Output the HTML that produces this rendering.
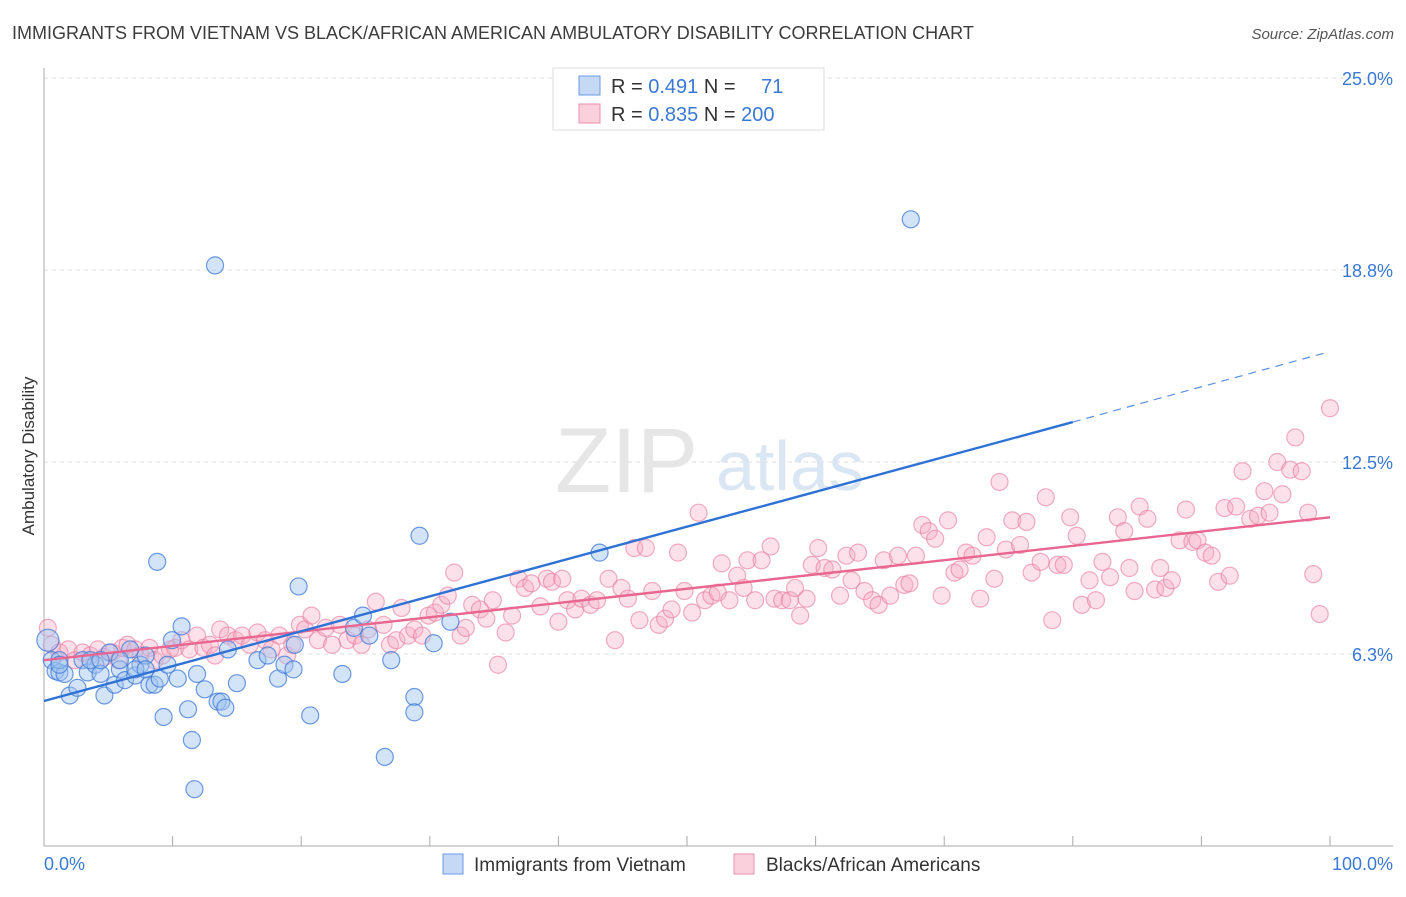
<!DOCTYPE html>
<html><head><meta charset="utf-8"><style>
body{margin:0;background:#fff;font-family:"Liberation Sans",sans-serif;}
svg text{font-family:"Liberation Sans",sans-serif;}
</style></head><body>
<svg id="chart" width="1406" height="892" xmlns="http://www.w3.org/2000/svg">
<text x="12" y="39" font-size="18" fill="#3c3c3c">IMMIGRANTS FROM VIETNAM VS BLACK/AFRICAN AMERICAN AMBULATORY DISABILITY CORRELATION CHART</text>
<text x="1394" y="39" font-size="15" fill="#555" text-anchor="end" font-style="italic">Source: ZipAtlas.com</text>
<g id="grid"></g>
<text x="555" y="492" font-size="92" fill="#e6e6e6" font-family="Liberation Serif">ZIP</text>
<text x="716" y="490" font-size="70" fill="#dbe6f4">atlas</text>
<g id="pink"></g><g id="blue"></g><g id="lines"></g>
<text transform="translate(34,456) rotate(-90)" font-size="17" fill="#333" text-anchor="middle">Ambulatory Disability</text>
<g>
<rect x="553" y="68" width="271" height="62" fill="#fff" stroke="#ddd"/>
<rect x="579" y="76" width="21" height="19" fill="#c5d9f5" stroke="#6a9be0"/>
<rect x="579" y="104" width="21" height="19" fill="#fbd0dd" stroke="#eb8fac"/>
<text x="611" y="93" font-size="20" fill="#333">R = <tspan fill="#3a78d6">0.491</tspan>   N = <tspan fill="#3a78d6" dx="20">71</tspan></text>
<text x="611" y="121" font-size="20" fill="#333">R = <tspan fill="#3a78d6">0.835</tspan>   N = <tspan fill="#3a78d6">200</tspan></text>
</g>
<g>
<rect x="443" y="854" width="20" height="20" fill="#c5d9f5" stroke="#6a9be0"/>
<text x="474" y="871" font-size="19" fill="#333">Immigrants from Vietnam</text>
<rect x="734" y="854" width="20" height="20" fill="#fbd0dd" stroke="#eb8fac"/>
<text x="766" y="871" font-size="19" fill="#333">Blacks/African Americans</text>
</g>
</svg>
<script>
const yTicks=[6.25,12.5,18.75,25];
const yTickLabels=["6.3%","12.5%","18.8%","25.0%"];
const xTickLabels=["0.0%","100.0%"];
const blueX=[0.3,0.6,0.9,1.2,1.6,2.0,2.6,3.0,3.4,4.0,4.4,4.7,5.1,5.5,5.9,6.3,6.7,7.1,7.5,7.9,8.2,8.6,8.8,9.0,9.3,9.6,9.95,10.4,10.7,11.2,11.5,11.7,11.9,12.5,13.3,13.5,13.8,14.1,14.3,15.0,16.6,17.4,18.2,18.7,19.4,19.5,19.8,20.7,23.2,24.1,24.8,25.3,26.5,27.0,28.8,28.8,29.2,30.3,31.6,43.2,67.4,1.2,3.6,5.9,7.1,7.9,1.2,4.4];
const blueY=[6.7,6.05,5.7,5.65,5.6,4.9,5.15,6.05,5.65,5.9,5.6,4.9,6.3,5.25,5.75,5.4,6.4,5.55,5.9,6.2,5.25,5.25,9.25,5.45,4.2,5.9,6.7,5.45,7.15,4.45,3.45,1.85,5.6,5.1,18.9,4.7,4.7,4.5,6.4,5.3,6.05,6.2,5.45,5.9,5.75,6.55,8.45,4.25,5.6,7.1,7.5,6.85,2.9,6.05,4.85,4.35,10.1,6.6,7.3,9.55,20.4,6.05,6.05,6.05,5.75,5.75,5.9,6.05];
const pinkX=[0.3,0.6,1.2,1.9,2.4,3.0,3.6,4.2,4.7,5.3,5.8,6.1,6.5,7.1,7.5,8.2,8.6,9.2,9.8,10.2,10.7,11.3,11.9,12.4,12.9,13.3,13.7,14.3,14.9,15.4,16.0,16.6,17.2,17.7,18.3,18.9,19.3,19.9,20.3,20.8,21.3,21.9,22.4,23.0,23.6,24.2,24.7,25.2,25.8,26.4,26.9,27.4,27.8,28.3,28.8,29.4,29.9,30.4,30.9,31.4,31.9,32.4,32.8,33.3,33.9,34.4,34.9,35.3,35.9,36.4,36.9,37.4,37.9,38.6,39.1,39.5,40.0,40.3,40.7,41.3,41.8,42.5,43.0,43.9,44.4,44.9,45.4,45.9,46.3,46.8,47.3,47.8,48.3,48.8,49.3,49.8,50.4,50.9,51.4,51.9,52.4,52.7,53.3,53.9,54.4,54.7,55.3,55.8,56.5,56.8,57.4,58.0,58.4,58.8,59.3,59.7,60.2,60.7,61.3,61.9,62.4,62.8,63.3,63.8,64.4,64.9,65.3,65.8,66.4,66.9,67.3,67.8,68.3,68.8,69.3,69.8,70.3,70.8,71.2,71.7,72.2,72.8,73.3,73.9,74.3,74.8,75.3,75.9,76.4,76.8,77.5,77.9,78.4,78.8,79.3,79.8,80.3,80.7,81.3,81.8,82.3,82.9,83.5,84.0,84.4,84.8,85.2,85.8,86.4,86.8,87.2,87.7,88.3,88.8,89.3,89.7,90.3,90.8,91.3,91.8,92.2,92.7,93.2,93.8,94.4,94.9,95.3,95.9,96.3,96.9,97.3,97.8,98.3,98.7,99.2,100];
const pinkY=[7.1,6.55,6.3,6.4,6.05,6.3,6.2,6.4,6.15,6.3,6.05,6.45,6.55,6.4,6.2,6.45,6.05,6.2,6.4,6.45,6.7,6.4,6.85,6.45,6.55,6.2,7.05,6.85,6.7,6.85,6.55,6.95,6.7,6.4,6.85,6.2,6.55,7.2,7.05,7.5,6.7,7.1,6.55,7.2,6.7,6.85,6.55,7.05,7.95,7.2,6.55,6.7,7.75,6.85,7.05,6.85,7.5,7.6,7.85,8.15,8.9,6.85,7.1,7.85,7.7,7.4,8.0,5.9,6.95,7.5,8.7,8.4,8.55,7.8,8.7,8.6,7.3,8.7,8.0,7.7,8.05,7.85,8.0,8.7,6.7,8.4,8.05,9.7,7.35,9.7,8.3,7.2,7.4,7.7,9.55,8.3,7.6,10.85,8.0,8.15,8.25,9.2,8.0,8.8,8.4,9.3,8.0,9.3,9.75,8.05,8.0,8.0,8.4,7.5,8.05,9.15,9.7,9.05,9.0,8.15,9.45,8.65,9.55,8.3,8.0,7.85,9.3,8.15,9.45,8.5,8.55,9.45,10.45,10.25,10.0,8.15,10.6,8.9,9.0,9.55,9.45,8.05,10.05,8.7,11.85,9.65,10.6,9.8,10.55,8.9,9.25,11.35,7.35,9.15,9.15,10.7,10.1,7.85,8.65,8.0,9.25,8.75,10.7,10.25,9.05,8.3,11.05,10.65,8.35,9.05,8.4,8.65,9.95,10.95,9.9,9.95,9.55,9.45,8.6,11.0,8.8,11.05,12.2,10.65,10.75,11.55,10.85,12.5,11.45,12.25,13.3,12.2,10.85,8.85,7.55,14.25];
const blueLine=[[0,4.72],[80,13.8]];
const blueDash=[[80,13.8],[99.6,16.05]];
const pinkLine=[[0,6.05],[100,10.7]];
const NS="http://www.w3.org/2000/svg";
const sx=v=>44+v*12.86, sy=v=>846-v*30.72;
function mk(tag,attrs,parent){const e=document.createElementNS(NS,tag);for(const k in attrs)e.setAttribute(k,attrs[k]);parent.appendChild(e);return e;}
const grid=document.getElementById('grid');
yTicks.forEach((t,i)=>{
  const l=mk('line',{x1:44,x2:1393,y1:sy(t),y2:sy(t),stroke:'#ddd','stroke-dasharray':'4,4'},grid);
  
  
  const tx=mk('text',{x:1393,y:sy(t)+7,'font-size':18,fill:'#3a78d6','text-anchor':'end'},grid);
  tx.textContent=yTickLabels[i];
  
  
});
const ya=mk('line',{x1:44,x2:44,y1:68,y2:846,stroke:'#aaa'},grid);


const xa=mk('line',{x1:44,x2:1393,y1:846,y2:846,stroke:'#aaa'},grid);


for(let i=0;i<=10;i++){
  const t=mk('line',{x1:sx(i*10),x2:sx(i*10),y1:836,y2:846,stroke:'#aaa'},grid);
  
  
}
[[0,'start'],[100,'end']].forEach((p,i)=>{
  const tx=mk('text',{x:i?1393:44,y:870,'font-size':18,fill:'#3a78d6','text-anchor':p[1]},grid);
  tx.textContent=xTickLabels[i];
  
  
});
const pg=document.getElementById('pink');
pinkX.forEach((x,i)=>{
  const c=mk('circle',{cx:sx(x),cy:sy(pinkY[i]),r:8.5,fill:'rgba(247,170,195,0.35)',stroke:'rgba(232,120,155,0.6)','stroke-width':1.2},pg);
  
  
});
const bg=document.getElementById('blue');
blueX.forEach((x,i)=>{
  const c=mk('circle',{cx:sx(x),cy:sy(blueY[i]),r:i==0?11:8.5,fill:'rgba(160,195,240,0.45)',stroke:'rgba(60,120,215,0.75)','stroke-width':1.2},bg);
  
  
});
const lg=document.getElementById('lines');
function ln(pts,col,dash,name){
  const l=mk('line',{x1:sx(pts[0][0]),y1:sy(pts[0][1]),x2:sx(pts[1][0]),y2:sy(pts[1][1]),stroke:col,'stroke-width':dash?1.2:2.4},lg);
  if(dash)l.setAttribute('stroke-dasharray','8,6');
  
  
}
ln(pinkLine,'#e8668f',false,'pink-trend-line');
ln(blueLine,'#2f72d6',false,'blue-trend-line');
ln(blueDash,'#5a8fdd',true,'blue-trend-extension');
</script>
</body></html>
